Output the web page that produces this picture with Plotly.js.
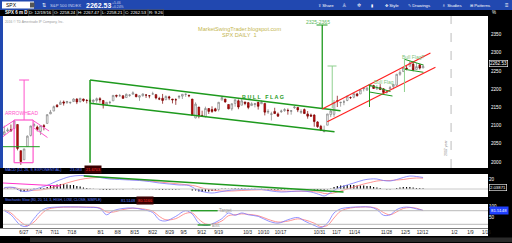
<!DOCTYPE html>
<html><head><meta charset="utf-8">
<script src="https://cdn.plot.ly/plotly-3.0.1.min.js"></script>
<style>html,body{margin:0;padding:0;background:#000;overflow:hidden}#c{width:512px;height:243px}</style>
</head><body><div id="c"></div>
<script>
// ---- data ----
const dates = ['6/20','6/21','6/22','6/23','6/24','6/27','6/28','6/29','6/30','7/1','7/5','7/6','7/7','7/8','7/11','7/12','7/13','7/14','7/15','7/18','7/19','7/20','7/21','7/22','7/25','7/26','7/27','7/28','7/29','8/1','8/2','8/3','8/4','8/5','8/8','8/9','8/10','8/11','8/12','8/15','8/16','8/17','8/18','8/19','8/22','8/23','8/24','8/25','8/26','8/29','8/30','8/31','9/1','9/2','9/6','9/7','9/8','9/9','9/12','9/13','9/14','9/15','9/16','9/19','9/20','9/21','9/22','9/23','9/26','9/27','9/28','9/29','9/30','10/3','10/4','10/5','10/6','10/7','10/10','10/11','10/12','10/13','10/14','10/17','10/18','10/19','10/20','10/21','10/24','10/25','10/26','10/27','10/28','10/31','11/1','11/2','11/3','11/4','11/7','11/8','11/9','11/10','11/11','11/14','11/15','11/16','11/17','11/18','11/21','11/22','11/23','11/25','11/28','11/29','11/30','12/1','12/2','12/5','12/6','12/7','12/8','12/9','12/12','12/13','12/14','12/15','12/16','12/19'];
const openP = [2075,2085,2089,2092,2103,2031,2006,2043,2073,2099,2096,2084,2100,2106,2132,2140,2156,2158,2165,2163,2163,2166,2173,2166,2173,2169,2169,2166,2169,2174,2169,2156,2163,2168,2183,2182,2182,2177,2183,2186,2186,2178,2182,2184,2182,2187,2185,2174,2175,2171,2179,2173,2171,2178,2181,2186,2183,2173,2121,2151,2128,2125,2147,2144,2146,2144,2170,2173,2158,2146,2161,2168,2156,2165,2163,2155,2158,2164,2160,2161,2137,2131,2139,2132,2138,2141,2142,2139,2149,2150,2136,2144,2132,2129,2129,2110,2098,2083,2101,2130,2131,2168,2163,2165,2169,2177,2178,2187,2187,2201,2198,2207,2210,2201,2205,2201,2192,2201,2207,2211,2241,2249,2258,2263,2269,2254,2267,2258.24];
const highP = [2100,2094,2103,2113,2103,2031,2036,2073,2098,2108,2100,2100,2104,2131,2143,2155,2159,2169,2169,2168,2164,2175,2175,2176,2174,2173,2174,2172,2177,2178,2170,2164,2168,2182,2185,2187,2183,2188,2186,2194,2186,2183,2188,2185,2184,2193,2187,2179,2187,2183,2182,2173,2175,2184,2186,2188,2185,2173,2164,2151,2141,2152,2147,2153,2149,2165,2180,2173,2158,2161,2172,2172,2175,2165,2165,2164,2162,2165,2169,2161,2145,2138,2149,2136,2144,2148,2147,2142,2154,2151,2145,2147,2140,2133,2131,2112,2102,2100,2132,2146,2170,2182,2165,2171,2180,2180,2188,2190,2198,2204,2204,2214,2212,2211,2214,2203,2197,2209,2212,2242,2252,2259,2264,2278,2277,2272,2268,2267.47];
const lowP = [2075,2082,2084,2092,2032,1992,2006,2043,2070,2097,2084,2074,2087,2106,2132,2140,2150,2158,2155,2160,2159,2165,2159,2163,2165,2161,2160,2160,2163,2163,2147,2154,2159,2168,2177,2180,2173,2177,2179,2186,2179,2168,2180,2176,2175,2186,2172,2170,2160,2171,2170,2161,2157,2173,2173,2179,2178,2128,2120,2120,2124,2122,2132,2135,2139,2139,2170,2163,2145,2141,2152,2145,2156,2156,2145,2155,2150,2144,2160,2128,2132,2114,2132,2124,2135,2138,2130,2130,2146,2137,2132,2132,2119,2125,2097,2094,2085,2083,2101,2123,2124,2151,2152,2156,2167,2173,2175,2180,2187,2194,2195,2207,2201,2198,2198,2187,2188,2200,2200,2209,2237,2247,2252,2263,2249,2254,2254,2258.21];
const closeP = [2083,2088,2085,2113,2037,2001,2036,2071,2099,2103,2089,2100,2097,2130,2137,2152,2152,2164,2162,2166,2164,2173,2165,2175,2169,2169,2167,2170,2174,2171,2157,2164,2164,2183,2181,2182,2175,2186,2184,2190,2179,2182,2187,2184,2182,2187,2176,2173,2169,2180,2176,2171,2171,2180,2186,2186,2182,2128,2159,2127,2126,2147,2139,2139,2140,2164,2177,2165,2146,2160,2171,2151,2168,2161,2150,2160,2160,2153,2164,2137,2139,2132,2133,2126,2140,2144,2141,2141,2151,2143,2139,2133,2126,2126,2111,2097,2088,2085,2132,2140,2163,2167,2164,2165,2181,2177,2188,2182,2198,2203,2204,2213,2202,2205,2199,2191,2192,2204,2213,2241,2246,2259,2256,2272,2253,2262,2258,2262.53];
const priceTicks = [2000,2050,2100,2150,2200,2250,2300,2350];

const macdIdx = [0,3,5,7,9,12,14,16,18,20,23,26,29,32,35,38,41,44,47,50,53,56,58,60,63,66,69,72,75,78,81,84,87,90,93,96,97,99,101,103,106,109,111,113,115,117,119,121,123,125,127];
const macdLine = [3,3,-4,-5,-1,5,10,16,21,25,27,26,23,20,19,18,17,15,12,10,8,7,0,-5,-8,-5,-2,-1,-1,-1,-4,-6,-5,-4,-6,-12,-14,-7,1,6,12,18,20,20,17,16,19,23,26,25,23.08];
const macdSignal = [2,2.5,0,-2,-2.5,-1,2,6,10,14,19,22,23,22,21,19,18,16,14,12,10,8,6,2,-2,-4,-4,-3,-2,-1.5,-2,-4,-4.5,-4.5,-5,-7,-9,-9,-6,-2,4,10,13,16,17,17,18,19,21,22,21.67];
const macdHist = [1,1,0.5,1,-2,-5,-5,-3,-1,1,1,2,2,4,6,8,9,10,10,9,8,8,6,5,3,2,1,0.5,0,-1,-2,-2,-2,-1,-1,-0.5,-1,0,0,0.5,-0.5,-0.5,0,-0.5,-0.5,-0.5,-1,-1.5,-2,-1.5,-1.5,-1.5,-1.5,-1,0,0,0,-3,-3,-5,-6,-5,-5,-4,-3,-1,1,1,0.5,1,1.5,1,1.5,1,0.5,0.5,0.5,0,0.5,-1,-1.5,-2,-2,-2,-1.5,-1,-0.5,-0.5,0,0,0,-0.5,-1,-1,-2,-3,-4,-4,-1,1,4,6,7,7,8,8,8,7,7,7,6,6,4,3,2,0,-1,-1,0,2,3,4,4,4,3,2,2,1.4];

// Stochastic slow
const stoIdx = [0,2,5,7,9,11,13,16,20,25,29,31,33,36,39,42,45,47,49,52,55,57,59,61,63,66,68,70,72,74,77,80,83,86,89,91,94,96,98,100,102,105,108,111,113,115,117,119,121,123,125,127];
const stoK = [80,62,15,12,45,78,92,96,97,95,90,62,80,90,92,85,72,40,35,55,80,65,25,15,22,45,70,60,70,62,55,35,25,40,50,35,15,6,25,70,88,95,97,96,85,60,62,85,95,95,88,81.51];
const stoD = [84,70,30,14,30,62,85,94,96,96,92,75,74,85,91,88,78,55,40,45,68,70,42,22,20,35,58,62,66,64,58,42,30,34,44,40,25,10,15,48,78,92,96,96,90,72,62,75,90,94,91,80.52];

// date labels along the bottom, at the spots where the reference prints them (pixel x)
const tickLabels = ['6/27','7/4','7/11','7/18','8/1','8/8','8/15','8/22','8/29','9/5','9/12','9/19','10/3','10/10','10/17','10/31','11/7','11/14','11/28','12/5','12/12','1/2','1/9','1/16'];
const tickPx     = [23,38,54,71,100,117,134,152,169,183,201,218,247,263,280,319,336,354,386,405,422,454,470,486];

// ---- build ----
const idx = dates.map((d,i)=>i);
// pixel helpers for drawn annotations (trendlines)
const PX = px => (px-3.5)/3.3;
const PY = py => 2000 + (162-py)/0.364;
const tickVals = tickPx.map(PX);
const W=512,H=243;
const fx = px=>px/W, fy = py=>1-py/H;

const shapes=[], ann=[];
function pr(x0,y0,x1,y1,fill,line){shapes.push({type:'rect',xref:'paper',yref:'paper',x0:fx(x0),x1:fx(x1),y0:fy(y1),y1:fy(y0),fillcolor:fill,line:{width:line?0.6:0,color:line||fill},layer:'below'});}
function dl(x0,y0,x1,y1,color,w,dash,ax){ax=ax||'';shapes.push({type:'line',xref:'x'+ax,yref:'y'+ax,x0:PX(x0),x1:PX(x1),y0:PY(y0),y1:PY(y1),line:{color:color,width:w||1.2,dash:dash||'solid'}});}
function tx(x,y,t,size,color,anchor,extra){ann.push(Object.assign({xref:'paper',yref:'paper',x:fx(x),y:fy(y),text:t,showarrow:false,xanchor:anchor||'left',yanchor:'middle',font:{size:size,color:color,family:'Liberation Sans, Arial, sans-serif'}},extra||{}));}

// backgrounds
pr(0,0,512,10,'#2148b0');
pr(0,16,3,168,'#2148b0');
pr(0,228.5,488,236,'#ffffff');
pr(30,237.5,512,242,'#2a2a2a');
// toolbar
pr(2,1.5,34,8.5,'#ffffff');
pr(30,2.5,34.5,7.5,'#555555');
tx(4,5,'SPX',5,'#000');
tx(40,5,'⇅',5,'#fff');
tx(48,5,'S&P 500 INDEX',4.3,'#c9d3ee');
tx(84,5,'<b>2262.53</b>',7,'#ffffff');
tx(110,3.2,'+5.46',3.4,'#c9d3ee');
tx(110,7,'+0.24%',3.4,'#c9d3ee');
tx(316,5,'⇪ Share',4.3,'#fff');
tx(340,5,'♙',5,'#fff');
tx(355,5,'✲',5,'#fff');
tx(369,5,'▮',4,'#fff');
tx(383,5,'✥ Style',4.3,'#fff');
tx(406,5,'✎ Drawings',4.3,'#fff');
tx(440,5,'♗ Studies',4.3,'#fff');
tx(468,5,'⊞ Patterns',4.3,'#fff');
tx(503,5,'≡',6,'#fff');
// info bar
tx(3,13,'<b>SPX 6 m D</b>',4.5,'#fff');
const info=[['D: 12/19/16',28],['O: 2258.24',53],['H: 2267.47',77],['L: 2258.21',101],['C: 2262.53',124],['R: 9.26',148]];
info.forEach(a=>tx(a[1],13,a[0],4.3,'#fff','left',{bordercolor:'#555',borderpad:0.5,borderwidth:0.5}));
tx(490,13,'%',4.5,'#fff');
// chart texts
tx(3,22,'2016 © TD Ameritrade IP Company, Inc.',3.3,'#999');
tx(239,29,'MarketSwingTrader.blogspot.com',5.6,'#c4b650','center');
tx(239,35,'SPX DAILY  1',5.6,'#c4b650','center');
tx(318,22,'2325-2365',5,'#5cb85c','center');
tx(263,96.5,'<b>B U L L   F L A G</b>',5.4,'#1e9a1e','center');
tx(21,113,'ARROWHEAD',5,'#ff55cc','center');
tx(384,82.5,'Bull Flag',5,'#7cc47c','center');
tx(413,56.5,'Bull Flag?',5,'#7cc47c','center');
tx(446,148,'2017 year',3.5,'#888','center',{textangle:-90});
tx(489,63,'2262.53',4.6,'#fff','left',{bordercolor:'#fff',borderwidth:0.6,borderpad:0.3,bgcolor:'#000'});
// MACD header
tx(2.5,169.5,'MACD (12, 26, 9, EXPONENTIAL)',3.7,'#5a78ff');
tx(68,169.5,'23.083',3.9,'#5a78ff');
tx(84,169.5,'21.6703',3.9,'#ff3030','left',{bgcolor:'#3a0000'});
tx(489,187.5,'2.03871',4.3,'#fff','left',{bordercolor:'#fff',borderwidth:0.6,borderpad:0.3});
// Stoch header
tx(2.5,200,'Stochastic Slow (80, 20, 14, 3, HIGH, LOW, CLOSE, SIMPLE)',3.5,'#5a78ff');
tx(119,200,'81.5148',3.9,'#5a78ff');
tx(136,200,'80.5166',3.9,'#ff3030','left',{bgcolor:'#3a0000'});
tx(489,210,'81.5148',4.3,'#fff','left',{bgcolor:'#2040ff'});
tx(217,210.5,'Target',4.5,'#999');
tx(210,225,'Exit',4.5,'#999');

// pink arrowhead
const pk='#ff55cc';
dl(13.3,120,32.3,120,pk,1.2);dl(13.3,120,13.3,162.7,pk,1.2);dl(32.3,120,32.3,162.7,pk,1.2);dl(13.3,162.7,32.3,162.7,pk,1.2);
dl(1.7,128,13.3,120.5,pk,1);dl(1.7,137,13.3,128,pk,1);
dl(32.3,120.5,48.3,131,pk,1);dl(33.3,128,46.7,137.5,pk,1);
dl(23.3,80,23.3,120,pk,1);dl(18.3,80,28.3,80,pk,1);
dl(0,146.7,39,146.7,'#1e9a1e',1);
// bull flag channel
const gr='#1e9a1e';
dl(89.3,80,340,110.7,gr,1.5);
dl(89.3,103.3,334,131.7,gr,1.5);
dl(89.3,80,89.3,162.7,gr,1.5);
dl(321.7,25,321.7,108,gr,1.3);
dl(316,25,327,25,gr,1);
const lg='#8fd08f';
dl(331.7,66,331.7,108,lg,1);dl(327,66,336,66,lg,1);
// red channel
dl(321.7,109,430,53,'#ff2020',1.2);
dl(326.7,121.7,435,67.3,'#ff2020',1.2);
// small flags
dl(368,85,390,91.5,gr,1);dl(369,92,392,96,gr,1);dl(369,85,369,107,gr,1);
dl(404,59.3,423,65,gr,1);dl(404,69.3,423,72.3,gr,1);dl(404,59.3,404,92,lg,1);
// year line
shapes.push({type:'line',xref:'x',yref:'paper',x0:135.5,x1:135.5,y0:fy(168),y1:fy(16),line:{color:'#aaa',width:0.8,dash:'dash'}});
// MACD zero line & drawn lines
shapes.push({type:'line',xref:'paper',yref:'y2',x0:fx(3),x1:fx(488),y0:0,y1:0,line:{color:'#c8c8c8',width:1}});
shapes.push({type:'line',xref:'x2',yref:'y2',x0:PX(2),x1:PX(60),y0:12,y1:6,line:{color:'#ff33cc',width:1.2}});
shapes.push({type:'line',xref:'x2',yref:'y2',x0:PX(83),x1:PX(343),y0:26,y1:-6,line:{color:'#1e9a1e',width:1.3}});
// Stoch levels & drawn lines
[80,20].forEach(v=>shapes.push({type:'line',xref:'paper',yref:'y3',x0:fx(3),x1:fx(488),y0:v,y1:v,line:{color:'#b8b8b8',width:1}}));
shapes.push({type:'line',xref:'x3',yref:'y3',x0:PX(190),x1:PX(217),y0:80,y1:80,line:{color:'#1e9a1e',width:1.3}});
shapes.push({type:'line',xref:'x3',yref:'y3',x0:PX(197),x1:PX(210),y0:17,y1:17,line:{color:'#1e9a1e',width:1.3}});

const traces=[
 {type:'candlestick',x:idx,open:openP,high:highP,low:lowP,close:closeP,xaxis:'x',yaxis:'y',
  increasing:{line:{color:'#808080',width:0.7},fillcolor:'#ffffff'},
  decreasing:{line:{color:'#7a0000',width:0.7},fillcolor:'#cc1010'},whiskerwidth:0,hoverinfo:'skip'},
 {type:'bar',x:idx,y:macdHist,xaxis:'x2',yaxis:'y2',marker:{color:'#000'},width:0.35,hoverinfo:'skip'},
 {type:'scatter',mode:'lines',x:macdIdx,y:macdSignal,xaxis:'x2',yaxis:'y2',line:{color:'#ff7a7a',width:0.8,shape:'spline'},hoverinfo:'skip'},
 {type:'scatter',mode:'lines',x:macdIdx,y:macdLine,xaxis:'x2',yaxis:'y2',line:{color:'#7878ff',width:0.8,shape:'spline'},hoverinfo:'skip'},
 {type:'scatter',mode:'lines',x:stoIdx,y:stoD,xaxis:'x3',yaxis:'y3',line:{color:'#ff7a7a',width:0.8,shape:'spline'},hoverinfo:'skip'},
 {type:'scatter',mode:'lines',x:stoIdx,y:stoK,xaxis:'x3',yaxis:'y3',line:{color:'#7878ff',width:0.8,shape:'spline'},hoverinfo:'skip'}
];
const xr=[-0.4,146.7], xd=[fx(3),fx(488)];
const tf={size:4.6,color:'#fff',family:'Liberation Sans, Arial, sans-serif'};
const layout={width:512,height:243,margin:{l:0,r:0,t:0,b:0},paper_bgcolor:'#000',plot_bgcolor:'#fff',showlegend:false,
 xaxis:{domain:xd,range:xr,anchor:'y',showticklabels:false,showgrid:false,zeroline:false,rangeslider:{visible:false},fixedrange:true},
 yaxis:{domain:[fy(168),fy(16)],range:[1983.5,2401.1],side:'right',tickvals:priceTicks,tickfont:tf,showgrid:false,zeroline:false,ticks:'',ticklabelstandoff:2},
 xaxis2:{domain:xd,matches:'x',anchor:'y2',showticklabels:false,showgrid:false,zeroline:false},
 yaxis2:{domain:[fy(197),fy(174)],range:[-16,30],side:'right',tickvals:[20],tickfont:tf,showgrid:false,zeroline:false,ticks:''},
 xaxis3:{domain:xd,matches:'x',anchor:'y3',tickvals:tickVals,ticktext:tickLabels,tickfont:{size:4.6,color:'#222',family:'Liberation Sans, Arial, sans-serif'},showgrid:false,zeroline:false,ticks:''},
 yaxis3:{domain:[fy(228),fy(204)],range:[3.7,109.6],side:'right',tickvals:[50,100],tickfont:tf,showgrid:false,zeroline:false,ticks:''},
 shapes:shapes,annotations:ann};
Plotly.newPlot('c',traces,layout,{staticPlot:true,displayModeBar:false});
</script></body></html>
